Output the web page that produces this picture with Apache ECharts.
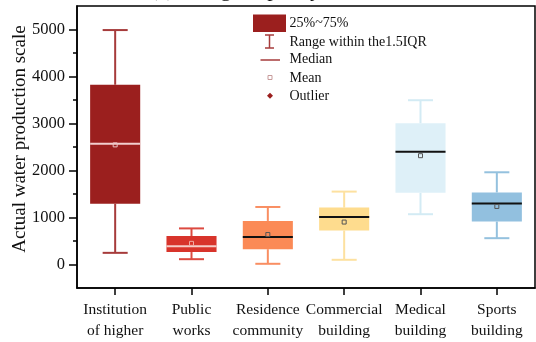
<!DOCTYPE html>
<html>
<head>
<meta charset="utf-8">
<title>Actual water production scale by building type</title>
<script src="https://cdn.jsdelivr.net/npm/echarts@6/dist/echarts.min.js"></script>
<style>
  html, body { margin: 0; padding: 0; background: #fff; }
  #chart { width: 536px; height: 342px; }
</style>
</head>
<body>
<div id="chart"></div>
<script>
// Building categories (two-line axis labels)
const categories = [
  'Institution\nof higher',
  'Public\nworks',
  'Residence\ncommunity',
  'Commercial\nbuilding',
  'Medical\nbuilding',
  'Sports\nbuilding'
];

// Box statistics per category
const whiskerLow  = [248, 113, 15, 100, 1070, 560];
const quartile1   = [1292, 265, 325, 722, 1525, 914];
const medianVals  = [2567, 389, 587, 1012, 2397, 1300];
const quartile3   = [3825, 605, 927, 1211, 3003, 1533];
const whiskerHigh = [4988, 768, 1224, 1551, 3495, 1962];
const meanVals    = [2545, 450, 637, 903, 2315, 1235];

// Y axis ticks
const yTickValues = [0, 1000, 2000, 3000, 4000, 5000];
const yMinorTickValues = [500, 1500, 2500, 3500, 4500];

// Per-category styling
const boxColors     = ['#9b1f1e', '#d8342b', '#fb8a56', '#fedc8e', '#def0f8', '#92c0df'];
const whiskerColors = ['#a63b3b', '#dc4a40', '#f98e62', '#fde1a0', '#d3ebf4', '#94c1de'];
const medianColors  = ['#f2cfcf', '#f6cdc8', '#111111', '#111111', '#111111', '#111111'];
const meanColors    = ['#ebc4c4', '#f0aaa2', '#555555', '#555555', '#555555', '#555555'];

const SERIF = '"Liberation Serif", "DejaVu Serif", serif';
const INK = '#111';

const boxData = categories.map((c, i) => [
  i, whiskerLow[i], quartile1[i], medianVals[i], quartile3[i], whiskerHigh[i], meanVals[i]
]);

function renderBox(params, api) {
  const i = params.dataIndex;
  const cat = api.value(0);
  const cx = api.coord([cat, 0])[0];
  const band = api.size([1, 0])[0];
  const half = band * 0.328;
  const capHalf = half * 0.5;
  const yOf = v => api.coord([cat, v])[1];
  const yLow = yOf(api.value(1));
  const yQ1 = yOf(api.value(2));
  const yMed = yOf(api.value(3));
  const yQ3 = yOf(api.value(4));
  const yHigh = yOf(api.value(5));
  const yMean = yOf(api.value(6));
  const wStyle = { stroke: whiskerColors[i], lineWidth: 2 };
  return {
    type: 'group',
    children: [
      { type: 'line', shape: { x1: cx, y1: yHigh, x2: cx, y2: yQ3 }, style: wStyle },
      { type: 'line', shape: { x1: cx, y1: yQ1, x2: cx, y2: yLow }, style: wStyle },
      { type: 'line', shape: { x1: cx - capHalf, y1: yHigh, x2: cx + capHalf, y2: yHigh }, style: wStyle },
      { type: 'line', shape: { x1: cx - capHalf, y1: yLow, x2: cx + capHalf, y2: yLow }, style: wStyle },
      { type: 'rect', shape: { x: cx - half, y: yQ3, width: half * 2, height: yQ1 - yQ3 },
        style: { fill: boxColors[i] } },
      { type: 'line', shape: { x1: cx - half, y1: yMed, x2: cx + half, y2: yMed },
        style: { stroke: medianColors[i], lineWidth: 2 } },
      { type: 'rect', shape: { x: cx - 2, y: yMean - 2, width: 4, height: 4 },
        style: { fill: 'none', stroke: meanColors[i], lineWidth: 1 } }
    ]
  };
}

// Legend drawn as graphic elements
const legendX = 289.5;
const legendTextStyle = (text, y) => ({
  type: 'text', x: legendX, y: y,
  style: {
    text: text, fill: INK, font: '14px ' + SERIF,
    textAlign: 'left', textVerticalAlign: 'middle', align: 'left', verticalAlign: 'middle'
  }
});

const chart = echarts.init(document.getElementById('chart'), null, { renderer: 'canvas' });

chart.setOption({
  animation: false,
  backgroundColor: '#fff',
  grid: {
    left: 77, right: 1, top: 6, bottom: 54,
    show: true, borderColor: '#000', borderWidth: 1.5, backgroundColor: 'transparent'
  },
  xAxis: {
    type: 'category',
    data: categories,
    boundaryGap: true,
    axisLine: { show: true, onZero: false, lineStyle: { color: '#000', width: 1.5 } },
    axisTick: { show: true, alignWithLabel: true, length: 7, lineStyle: { color: '#000', width: 1.5 } },
    axisLabel: {
      interval: 0, fontFamily: SERIF, fontSize: 15.5, lineHeight: 21, color: INK, margin: 11
    },
    splitLine: { show: false }
  },
  yAxis: [
    {
      type: 'value', min: -500, max: 5500, interval: 500,
      axisLine: { show: true, lineStyle: { color: '#000', width: 1.5 } },
      axisTick: { show: true, length: 8, customValues: yTickValues, lineStyle: { color: '#000', width: 1.5 } },
      axisLabel: {
        customValues: yTickValues, fontFamily: SERIF, fontSize: 16.5, color: INK, margin: 12,
        formatter: v => String(v)
      },
      splitLine: { show: false }
    },
    {
      type: 'value', min: -500, max: 5500, interval: 500, position: 'left',
      axisLine: { show: false },
      axisTick: { show: true, length: 4, customValues: yMinorTickValues, lineStyle: { color: '#000', width: 1.5 } },
      axisLabel: { show: false },
      splitLine: { show: false }
    }
  ],
  series: [{
    type: 'custom',
    name: 'water production',
    yAxisIndex: 0,
    renderItem: renderBox,
    encode: { x: 0, y: [1, 2, 3, 4, 5, 6] },
    data: boxData,
    clip: false,
    z: 3
  }],
  graphic: [
    // Chart heading, clipped at the top edge of the canvas
    {
      type: 'text', x: 150, y: -9.5,
      style: { text: '(a) Design capacity', fill: INK, font: '22px ' + SERIF,
        textAlign: 'left', textVerticalAlign: 'middle', align: 'left', verticalAlign: 'middle' }
    },
    // Y axis title
    {
      type: 'text', x: 20, y: 139, rotation: Math.PI / 2,
      style: { text: 'Actual water production scale', fill: INK, font: '19px ' + SERIF,
        textAlign: 'center', textVerticalAlign: 'middle', align: 'center', verticalAlign: 'middle' }
    },
    // Legend symbols
    { type: 'rect', shape: { x: 253, y: 14.5, width: 33, height: 17.5 }, style: { fill: '#9b1f1e' } },
    { type: 'line', shape: { x1: 269.5, y1: 35, x2: 269.5, y2: 48 }, style: { stroke: '#a63b3b', lineWidth: 1.5 } },
    { type: 'line', shape: { x1: 265, y1: 35, x2: 274, y2: 35 }, style: { stroke: '#a63b3b', lineWidth: 1.5 } },
    { type: 'line', shape: { x1: 265, y1: 48, x2: 274, y2: 48 }, style: { stroke: '#a63b3b', lineWidth: 1.5 } },
    { type: 'line', shape: { x1: 260.5, y1: 60, x2: 280, y2: 60 }, style: { stroke: '#a63b3b', lineWidth: 1.5 } },
    { type: 'rect', shape: { x: 268, y: 75.5, width: 4, height: 4 }, style: { fill: 'none', stroke: '#c79a9a', lineWidth: 1 } },
    { type: 'polygon', shape: { points: [[270, 92.8], [273, 95.8], [270, 98.8], [267, 95.8]] }, style: { fill: '#9b1f1e' } },
    legendTextStyle('25%~75%', 23.3),
    legendTextStyle('Range within the1.5IQR', 42.3),
    legendTextStyle('Median', 59.8),
    legendTextStyle('Mean', 78),
    legendTextStyle('Outlier', 96.3)
  ]
});
</script>
</body>
</html>
